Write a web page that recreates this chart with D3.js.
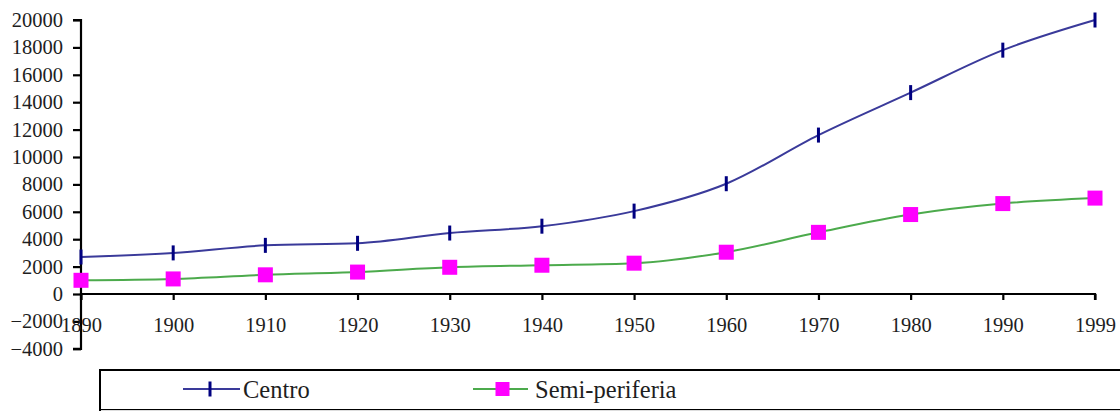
<!DOCTYPE html>
<html>
<head>
<meta charset="utf-8">
<script src="https://cdn.jsdelivr.net/npm/d3@7"></script>
<style>
  body { margin: 0; background: #fff; }
  svg text { font-family: "Liberation Serif", "Times New Roman", "DejaVu Serif", serif; }
</style>
</head>
<body>
<div id="chart-area"></div>
<script>
const years = ["1890", "1900", "1910", "1920", "1930", "1940", "1950", "1960", "1970", "1980", "1990", "1999"];
const centro = [2700, 3000, 3550, 3700, 4450, 4950, 6050, 8050, 11600, 14700, 17800, 20000];
const semiPeriferia = [1000, 1100, 1400, 1600, 1950, 2100, 2250, 3050, 4500, 5800, 6600, 7000];
const yTicks = [-4000, -2000, 0, 2000, 4000, 6000, 8000, 10000, 12000, 14000, 16000, 18000, 20000];

const width = 1120;
const height = 412;

const svg = d3
    .select("#chart-area")
    .append("svg")
    .attr("width", width)
    .attr("height", height);

//Scales
const xScale = d3.scalePoint().domain(years).range([81, 1095]);
const yScale = d3.scaleLinear().domain([-4000, 20000]).range([348.8, 20]);

const navy = "#000080";
const navyLine = "#3a3a9a";
const green = "#4caa4c";
const magenta = "#ff00ff";
const textColor = "#1e1e1e";

//Axes
const yAxisCall = d3.axisLeft(yScale).tickValues(yTicks).tickSize(8).tickPadding(10).tickFormat(d3.format("d"));
const xAxisCall = d3.axisBottom(xScale).tickSize(6).tickPadding(17);

const yAxis = svg.append("g")
    .attr("transform", "translate(81, 0)")
    .call(yAxisCall);
const xAxis = svg.append("g")
    .attr("transform", `translate(0, ${yScale(0)})`)
    .call(xAxisCall);

[yAxis, xAxis].forEach((ax) => {
    ax.attr("font-family", null).attr("font-size", null);
    ax.select(".domain").attr("stroke", "#000").attr("stroke-width", 2.2);
    ax.selectAll(".tick line").attr("stroke", "#000").attr("stroke-width", 2.2);
    ax.selectAll(".tick text")
        .attr("fill", textColor)
        .style("font-size", "20.5px");
});
xAxis.select(".domain").attr("d", `M81,6V0H1095V6`);
yAxis.select(".domain").attr("d", `M-8,${yScale(20000)}H0V${yScale(-4000)}H-8`);

//Lines
const line = d3.line()
    .x((d, i) => xScale(years[i]))
    .y((d) => yScale(d))
    .curve(d3.curveMonotoneX);

svg.append("path")
    .datum(semiPeriferia)
    .attr("fill", "none")
    .attr("stroke", green)
    .attr("stroke-width", 2)
    .attr("d", line);

svg.append("path")
    .datum(centro)
    .attr("fill", "none")
    .attr("stroke", navyLine)
    .attr("stroke-width", 2)
    .attr("d", line);

//Markers
svg.selectAll(".centro-mark")
    .data(centro)
    .enter()
    .append("rect")
    .attr("class", "centro-mark")
    .attr("x", (d, i) => xScale(years[i]) - 1.5)
    .attr("y", (d) => yScale(d) - 7.5)
    .attr("width", 3)
    .attr("height", 15)
    .attr("fill", navy);

svg.selectAll(".semi-mark")
    .data(semiPeriferia)
    .enter()
    .append("rect")
    .attr("class", "semi-mark")
    .attr("x", (d, i) => xScale(years[i]) - 7.5)
    .attr("y", (d) => yScale(d) - 7.5)
    .attr("width", 15)
    .attr("height", 15)
    .attr("fill", magenta);

//Legend
svg.append("rect")
    .attr("x", 100)
    .attr("y", 370)
    .attr("width", 1100)
    .attr("height", 40)
    .attr("fill", "#fff")
    .attr("stroke", "#000")
    .attr("stroke-width", 2);
svg.append("line")
    .attr("x1", 101).attr("x2", 1120)
    .attr("y1", 410.5).attr("y2", 410.5)
    .attr("stroke", "#ddd");

const legend = svg.append("g");
const c = legend.append("g").attr("transform", "translate(183, 389)");
c.append("line").attr("x1", 0).attr("x2", 57).attr("stroke", navyLine).attr("stroke-width", 2);
c.append("rect").attr("x", 25.5).attr("y", -7.5).attr("width", 3).attr("height", 15).attr("fill", navy);
c.append("text").attr("x", 60).attr("y", 9).style("font-size", "24.5px").attr("fill", textColor).text("Centro");

const s = legend.append("g").attr("transform", "translate(473, 389)");
s.append("line").attr("x1", 0).attr("x2", 55).attr("stroke", green).attr("stroke-width", 2);
s.append("rect").attr("x", 22.5).attr("y", -7).attr("width", 14).attr("height", 14).attr("fill", magenta);
s.append("text").attr("x", 62).attr("y", 9).style("font-size", "24.5px").attr("fill", textColor).text("Semi-periferia");
</script>
</body>
</html>
